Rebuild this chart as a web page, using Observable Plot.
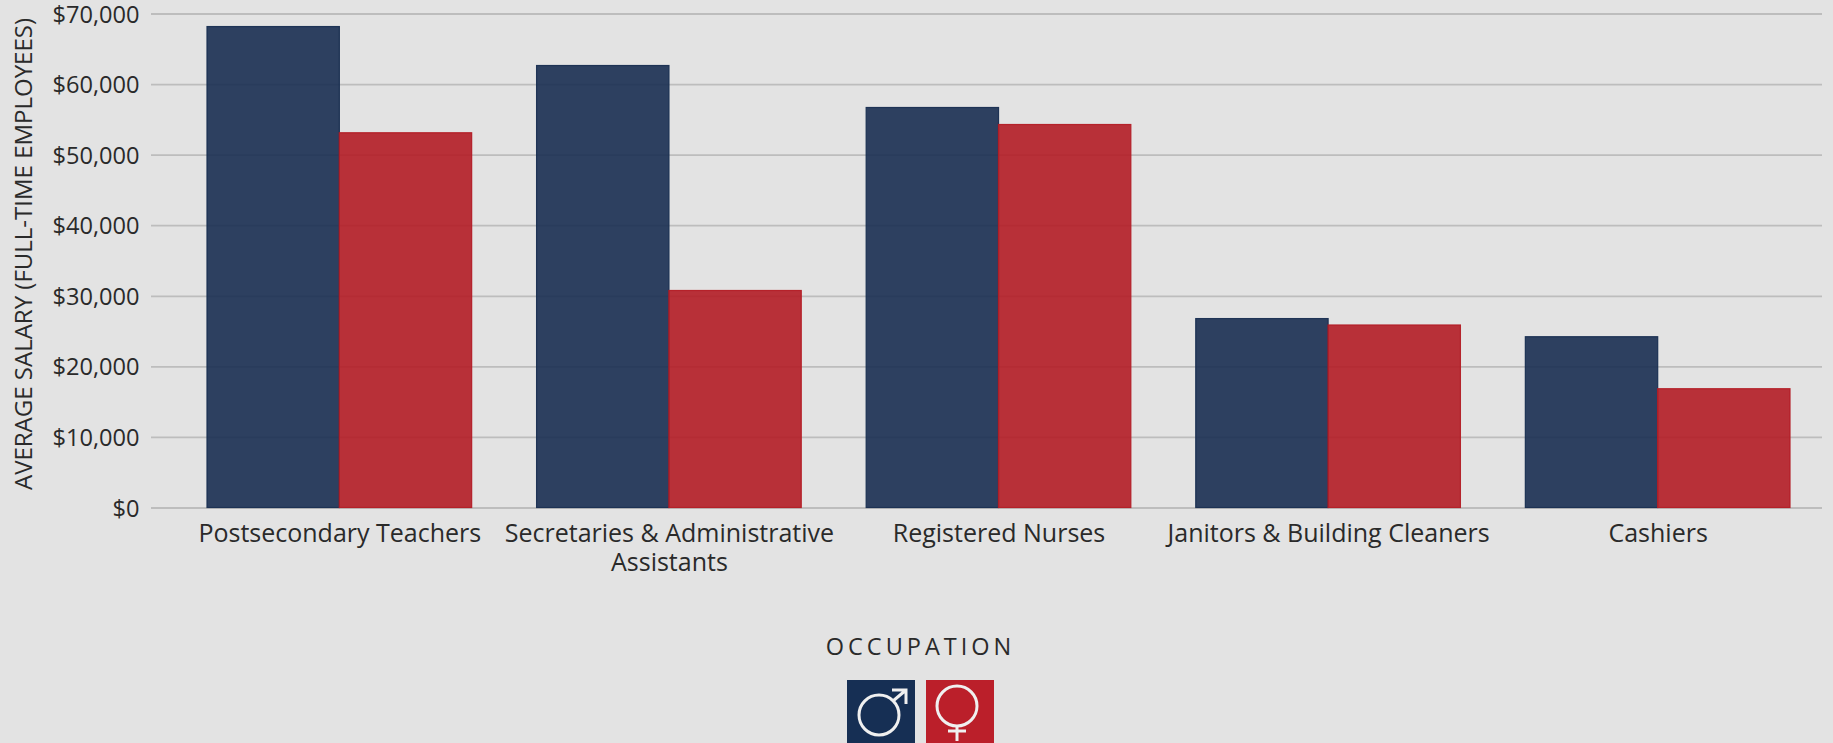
<!DOCTYPE html>
<html><head><meta charset="utf-8">
<script src="https://cdn.jsdelivr.net/npm/d3@7"></script>
<script src="https://cdn.jsdelivr.net/npm/@observablehq/plot@0.6"></script>
<style>
html,body{margin:0;padding:0;background:#e3e3e3;overflow:hidden;height:743px;}
svg{display:block;}
#legend{width:1841px;text-align:center;font-family:"Open Sans",sans-serif;color:#2a2a2a;}
#legend .t{font-size:23.5px;letter-spacing:4px;line-height:28px;margin-top:32px;}
#legend .k{display:flex;justify-content:center;gap:11px;margin-top:20px;}
#legend .k svg{width:68px;height:68px;}
</style></head><body>
<div id="chart"></div>
<div id="legend">
 <div class="t">OCCUPATION</div>
 <div class="k">
  <svg viewBox="0 0 68 68"><rect width="68" height="68" fill="#162f54"/><g fill="none" stroke="#f0f0f0" stroke-width="3"><circle cx="32" cy="35" r="20"/><path d="M46 21 L59 10 M45 10 H59 V24"/></g></svg>
  <svg viewBox="0 0 68 68"><rect width="68" height="68" fill="#bb1f2a"/><g fill="none" stroke="#f0f0f0" stroke-width="3"><circle cx="31" cy="26" r="20"/><path d="M31 46 V61 M22 51 H40"/></g></svg>
 </div>
</div>
<script>
const occupations = ["Postsecondary Teachers","Secretaries & Administrative\nAssistants","Registered Nurses","Janitors & Building Cleaners","Cashiers"];
const maleSalary = [68150,62630,56680,26770,24200];
const femaleSalary = [53100,30750,54270,25860,16830];
const yTicks = [0,10000,20000,30000,40000,50000,60000,70000];
const maleColor = "#182e51";
const femaleColor = "#b31c25";

const male = occupations.map((o,i)=>({occupation:o,salary:maleSalary[i]}));
const female = occupations.map((o,i)=>({occupation:o,salary:femaleSalary[i]}));
const font = '"Open Sans", sans-serif';
const barStyle = {x:"occupation",y:"salary",strokeWidth:1.2,fillOpacity:0.9,strokeOpacity:0.95};
const plot = Plot.plot({
  width:1833, height:600,
  marginLeft:151, marginRight:11, marginTop:13.5, marginBottom:92.5,
  style:{background:"transparent",fontFamily:font,fontSize:"22px",color:"#2a2a2a"},
  x:{domain:occupations,range:[207,1790],round:false,paddingInner:0.197,paddingOuter:0,align:0,label:null},
  y:{domain:[0,70000],label:null},
  marks:[
    Plot.ruleY(yTicks,{stroke:"#bdbdbd",strokeWidth:1.8}),
    Plot.barY(male,{...barStyle,fill:maleColor,stroke:maleColor,insetRight:132.3}),
    Plot.barY(female,{...barStyle,fill:femaleColor,stroke:femaleColor,insetLeft:132.3}),
    Plot.axisY({ticks:yTicks,tickFormat:d3.format("$,"),tickSize:0,tickPadding:12,label:null,fontSize:23.6,dy:1}),
    Plot.axisX({tickSize:0,tickPadding:13,label:null,fontSize:25,lineHeight:1.16,style:{letterSpacing:"1.2px"}}),
    Plot.text(["AVERAGE SALARY (FULL-TIME EMPLOYEES)"],{frameAnchor:"left",textAnchor:"middle",rotate:-90,dx:-127,dy:-7,fontSize:24,style:{letterSpacing:"1.3px"}})
  ]
});
document.getElementById("chart").append(plot);
</script>
</body></html>
